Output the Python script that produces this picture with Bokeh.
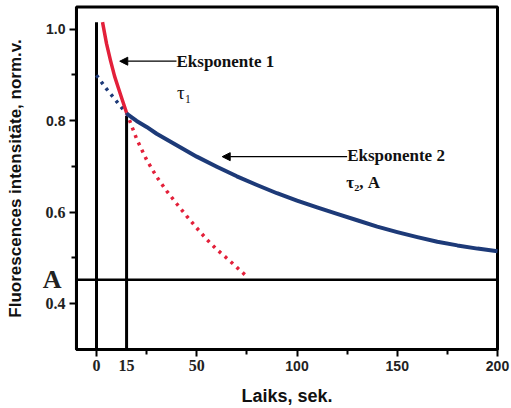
from bokeh.plotting import figure
from bokeh.models import Range1d, FixedTicker, Label, Arrow, NormalHead, LinearAxis
from bokeh.embed import file_html
from bokeh.resources import INLINE

# ---- data ----
red_solid_t = [3, 5, 7, 9, 11, 13, 15]
red_solid_v = [1.015, 0.968, 0.931, 0.897, 0.870, 0.843, 0.817]
red_dot_t = [15, 20, 25, 30, 35, 40, 45, 50, 55, 60, 65, 70, 75]
red_dot_v = [0.817, 0.760, 0.714, 0.677, 0.646, 0.618, 0.591, 0.565, 0.540, 0.518, 0.499, 0.479, 0.459]
blue_dot_t = [0, 5, 10, 15]
blue_dot_v = [0.899, 0.869, 0.842, 0.815]
blue_solid_t = [15, 20, 25, 30, 40, 50, 60, 70, 80, 90, 100, 110, 120, 130, 140, 150, 160, 170, 180, 190, 200]
blue_solid_v = [0.815, 0.799, 0.786, 0.771, 0.746, 0.721, 0.699, 0.678, 0.659, 0.641, 0.625, 0.610, 0.596, 0.582, 0.568, 0.556, 0.545, 0.535, 0.527, 0.520, 0.514]
marker_t = [0, 15]
marker_top = [1.015, 0.81]
A_level = 0.452

x_major = [0, 50, 100, 150, 200]
x_minor = [25, 75, 125, 175]
y_major = [0.4, 0.6, 0.8, 1.0]
y_minor = [0.5, 0.7, 0.9]
x_sans_labels = {0: "", 50: "", 100: "100", 150: "150", 200: "200"}
x_serif_ticks = [0, 15, 50]
x_serif_labels = {0: "0", 15: "15", 50: "50"}
y_sans_labels = {0.4: "", 0.6: "", 0.8: "0.8", 1.0: "1.0"}
y_serif_ticks = [0.4, 0.6]
y_serif_labels = {0.4: "0.4", 0.6: "0.6"}

RED = "#e3203a"
BLUE = "#1d3a78"
SERIF = "Liberation Serif"
SANS = "Liberation Sans"

# visible plot box (data limits)
x_lo, x_hi = -10, 200
y_lo, y_hi = 0.2995, 1.048
# the frame fills the whole canvas so that the texts outside the box are not clipped
X_lo, X_hi = -47.88, 206.98
Y_lo, Y_hi = 0.1705, 1.0623

p = figure(width=511, height=408, output_backend="svg", toolbar_location=None,
           x_range=Range1d(X_lo, X_hi), y_range=Range1d(Y_lo, Y_hi),
           x_axis_location=None, y_axis_location=None, min_border=0)
p.grid.visible = False
p.outline_line_color = None
p.background_fill_color = "white"
p.border_fill_color = "white"


def style_axis(ax):
    ax.axis_line_width = 3
    ax.axis_line_color = "black"
    ax.major_tick_line_color = "black"
    ax.minor_tick_line_color = "black"
    ax.major_tick_line_width = 2
    ax.minor_tick_line_width = 2
    ax.major_tick_out = 7
    ax.major_tick_in = 1
    ax.minor_tick_out = 5
    ax.minor_tick_in = 1
    ax.major_label_text_font = SANS
    ax.major_label_text_font_style = "bold"
    ax.major_label_text_font_size = "14px"
    ax.major_label_text_color = "#222222"
    ax.axis_label_text_font = SANS
    ax.axis_label_text_font_style = "bold"
    ax.axis_label_text_color = "#111111"


xax = LinearAxis(ticker=FixedTicker(ticks=x_major, minor_ticks=x_minor),
                 major_label_overrides=x_sans_labels, fixed_location=y_lo,
                 bounds=(x_lo, x_hi), axis_label="Laiks, sek.")
style_axis(xax)
xax.axis_label_text_font_size = "18px"
xax.major_label_standoff = 5
xax.axis_label_standoff = 11
p.add_layout(xax, "below")

yax = LinearAxis(ticker=FixedTicker(ticks=y_major, minor_ticks=y_minor),
                 major_label_overrides=y_sans_labels, fixed_location=x_lo,
                 bounds=(y_lo, y_hi), axis_label="Fluorescences intensitāte, norm.v.")
style_axis(yax)
yax.axis_label_text_font_size = "17px"
yax.major_label_standoff = 4
yax.axis_label_standoff = 18
p.add_layout(yax, "left")


def label_axis(ticks, overrides, loc, size, standoff, side):
    ax = LinearAxis(ticker=FixedTicker(ticks=ticks, minor_ticks=[]),
                    major_label_overrides=overrides, fixed_location=loc)
    ax.axis_line_color = None
    ax.major_tick_line_color = None
    ax.minor_tick_line_color = None
    ax.major_tick_out = 0
    ax.major_tick_in = 0
    ax.minor_tick_out = 0
    ax.minor_tick_in = 0
    ax.major_label_text_font = SERIF
    ax.major_label_text_font_style = "bold"
    ax.major_label_text_font_size = size
    ax.major_label_text_color = "#222222"
    ax.major_label_standoff = standoff
    p.add_layout(ax, side)


# serif tick labels and the "A" mark
label_axis(x_serif_ticks, x_serif_labels, y_lo, "16px", 11, "below")
label_axis(y_serif_ticks, y_serif_labels, x_lo, "16px", 11, "left")
label_axis([A_level], {A_level: "A"}, x_lo, "26px", 15, "left")

# box
p.quad(left=[x_lo], right=[x_hi], bottom=[y_lo], top=[y_hi],
       fill_color=None, line_color="black", line_width=3)

# reference lines
p.segment(x0=marker_t, y0=[y_lo] * len(marker_t), x1=marker_t, y1=marker_top,
          line_color="black", line_width=3)
p.segment(x0=[x_lo], y0=[A_level], x1=[x_hi], y1=[A_level], line_color="black", line_width=2.5)

# curves
p.line(red_dot_t, red_dot_v, line_color=RED, line_width=3.5, line_dash="3 5")
p.line(blue_dot_t, blue_dot_v, line_color=BLUE, line_width=3.5, line_dash="3 5")
p.line(red_solid_t, red_solid_v, line_color=RED, line_width=3.5, line_join="round")
p.line(blue_solid_t, blue_solid_v, line_color=BLUE, line_width=4, line_join="round")

# annotations
p.add_layout(Arrow(end=NormalHead(size=8, fill_color="black", line_color="black", line_width=1),
                   x_start=39.9, y_start=0.9296, x_end=11.6, y_end=0.9296,
                   line_color="black", line_width=1.2))
p.add_layout(Arrow(end=NormalHead(size=8, fill_color="black", line_color="black", line_width=1),
                   x_start=125.0, y_start=0.721, x_end=62.7, y_end=0.721,
                   line_color="black", line_width=1.2))
p.add_layout(Label(x=39.9, y=0.9296, text="Eksponente 1", text_font=SERIF, text_font_style="bold",
                   text_font_size="17px", text_align="left", text_baseline="middle",
                   text_color="#111111"))
p.add_layout(Label(x=40.2, y=0.861, text="τ₁", text_font=SERIF,
                   text_font_size="19px", text_align="left", text_baseline="middle",
                   text_color="#111111"))
p.add_layout(Label(x=125.0, y=0.7235, text="Eksponente 2", text_font=SERIF, text_font_style="bold",
                   text_font_size="17px", text_align="left", text_baseline="middle",
                   text_color="#111111"))
p.add_layout(Label(x=124.6, y=0.665, text="τ₂, A", text_font=SERIF, text_font_style="bold",
                   text_font_size="17px", text_align="left", text_baseline="middle",
                   text_color="#111111"))

open("out.html", "w").write(file_html(p, INLINE))
